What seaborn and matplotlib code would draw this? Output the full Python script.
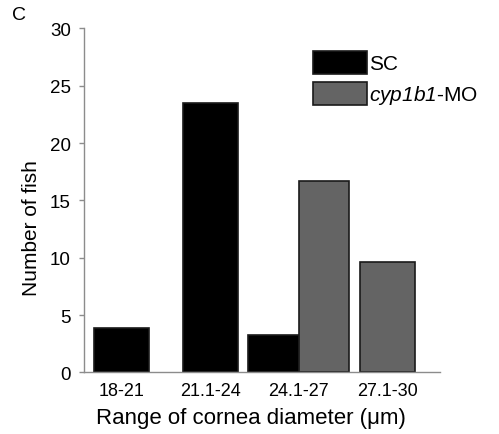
"""
Number of fish per range of cornea diameter, SC vs cyp1b1-MO.
"""
import matplotlib
matplotlib.use("Agg")
import matplotlib.pyplot as plt
import pandas as pd
import seaborn as sns

sns.set_style("white", {"text.color": "black", "axes.labelcolor": "black",
                        "xtick.color": "black", "ytick.color": "black"})
plt.rcParams["font.family"] = ["Liberation Sans", "DejaVu Sans"]
plt.rcParams["mathtext.fontset"] = "custom"
plt.rcParams["mathtext.it"] = "Liberation Sans:italic"
# digits inside \mathit fall back to rm, so keep rm italic as well
plt.rcParams["mathtext.rm"] = "Liberation Sans:italic"

RANGES = ["18-21", "21.1-24", "24.1-27", "27.1-30"]
GROUPS = ["SC", "cyp1b1-MO"]
SC_COUNTS = [3.9, 23.5, 3.3, 0]
MO_COUNTS = [0, 0, 16.7, 9.6]
LEGEND_LABELS = ["SC", r"$\mathit{cyp1b1}$-MO"]

if __name__ == "__main__":
    df = pd.DataFrame({
        "range": RANGES * 2,
        "group": [GROUPS[0]] * len(RANGES) + [GROUPS[1]] * len(RANGES),
        "count": SC_COUNTS + MO_COUNTS,
    })

    fig = plt.figure(figsize=(4.99, 4.35), dpi=100)
    ax = fig.add_axes([0.1683, 0.1414, 0.7134, 0.7908])
    sns.barplot(data=df, x="range", y="count", hue="group", order=RANGES,
                hue_order=GROUPS, palette=["#000000", "#646464"],
                dodge=True, width=1.14, gap=0, edgecolor="#1a1a1a",
                linewidth=1.2, errorbar=None, ax=ax)

    # bars without a partner in their range are drawn centred
    sc_bars, mo_bars = ax.containers[0], ax.containers[1]
    for a, b in zip(sc_bars, mo_bars):
        centre = b.get_x()
        for bar, other in ((a, b), (b, a)):
            if other.get_height() == 0 and bar.get_height() > 0:
                w = 0.62
                bar.set_x(centre - w / 2)
                bar.set_width(w)
        for bar in (a, b):
            if bar.get_height() == 0:
                bar.set_visible(False)

    ax.set_xlim(-0.42, 3.59)
    ax.set_ylim(0, 30)
    ax.set_yticks([0, 5, 10, 15, 20, 25, 30])
    sns.despine(ax=ax)
    for side in ("left", "bottom"):
        ax.spines[side].set_color("#8c8c8c")
        ax.spines[side].set_linewidth(1.0)
    ax.tick_params(axis="y", left=True, length=3.5, width=1, color="#8c8c8c",
                   labelcolor="black", pad=6, labelsize=13.5)
    ax.tick_params(axis="x", bottom=False, pad=3, labelsize=13,
                   labelcolor="black")

    ax.set_xlabel("Range of cornea diameter (\u03bcm)", fontsize=16)
    ax.set_ylabel("Number of fish", fontsize=15)
    ax.xaxis.set_label_coords(0.47, -0.1)
    ax.yaxis.set_label_coords(-0.12, 0.424)

    handles, _ = ax.get_legend_handles_labels()
    ax.legend(handles, LEGEND_LABELS, loc="upper left",
              bbox_to_anchor=(0.643, 0.935), frameon=False, fontsize=15,
              borderpad=0, borderaxespad=0, handlelength=2.6,
              handleheight=1.3, handletextpad=0.1, labelspacing=0.4)

    fig.text(0.024, 0.985, "C", fontsize=14, va="top", ha="left")
    plt.savefig("out.png", dpi=100)
